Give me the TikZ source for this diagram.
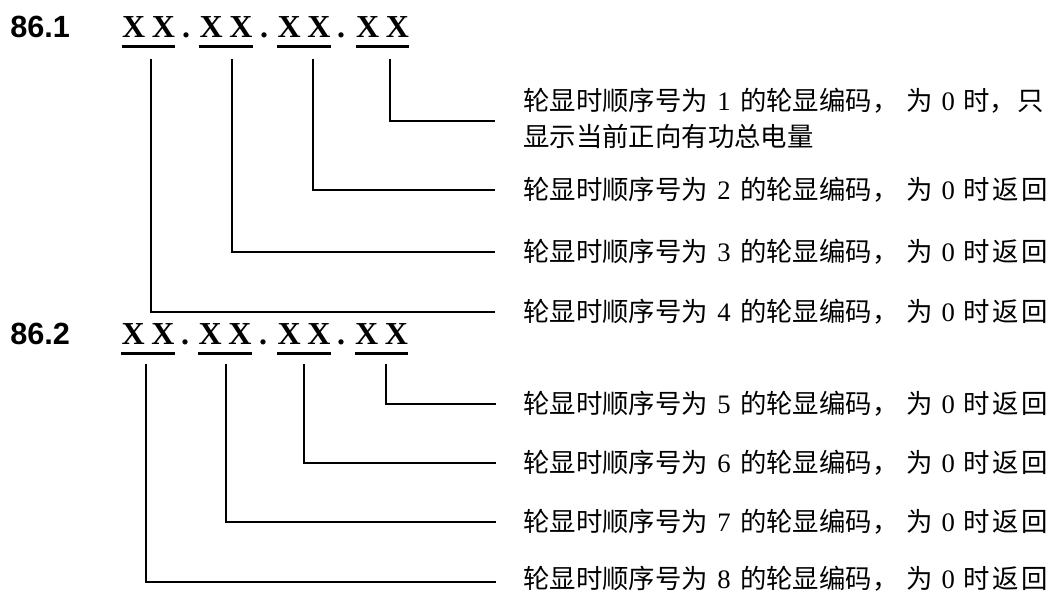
\documentclass[tikz,border=0pt]{standalone}
\usepackage{fontspec}
\setmainfont{Liberation Serif}
\newfontfamily\cjk{Noto Sans CJK SC}
\newfontfamily\hdfont{Liberation Sans}
\newcommand\dg[1]{{\fontsize{20}{26}\selectfont #1}}
\newcommand\labx[2]{{\cjk 轮显时顺序号为}\hspace{7pt}\dg{#1}\hspace{7pt}{\cjk 的轮显编码，}\hspace{6pt}{\cjk 为}\hspace{6.5pt}\dg{0}\hspace{6.5pt}#2}
\newcommand\lab[1]{\labx{#1}{{\cjk 时}\hspace{2pt}{\cjk 返}\hspace{2pt}{\cjk 回}}}
\begin{document}
\begin{tikzpicture}[x=0.75pt,y=-0.75pt,
  hd/.style={font=\hdfont\bfseries\fontsize{23}{27}\selectfont,anchor=base west,inner sep=0pt},
  xx/.style={font=\bfseries\fontsize{24}{28}\selectfont,anchor=base,inner sep=0pt},
  ul/.style={line width=2.4pt},
  conn/.style={line width=1.1pt},
  lbl/.style={font=\fontsize{19.8}{26}\selectfont,anchor=west,inner sep=0pt,text height=17pt,text depth=2.3pt}]
\useasboundingbox (0,0) rectangle (1057,593);
% ---- group 1 ----
\node[hd] (h1) at (10,37) {86.1};
\node[xx] (a1) at (148.5,37) {X\kern5pt X};
\node[xx] (d1) at (186,37) {.};
\node[xx] (a2) at (226,37) {X\kern5pt X};
\node[xx] (d2) at (264,37) {.};
\node[xx] (a3) at (304,37) {X\kern5pt X};
\node[xx] (d3) at (341,37) {.};
\node[xx] (a4) at (382.5,37) {X\kern5pt X};
\foreach \n in {a1,a2,a3,a4}
  \draw[ul] ([yshift=-7.3pt]\n.base west) -- ([yshift=-7.3pt]\n.base east);
\node[lbl] (t1a) at (523,101) {\labx{1}{{\cjk 时，}\hspace{1pt}{\cjk 只}}};
\node[lbl] (t1b) at (523,137) {\cjk 显示当前正向有功总电量};
\node[lbl] (t2) at (523,190) {\lab{2}};
\node[lbl] (t3) at (523,252) {\lab{3}};
\node[lbl] (t4) at (523,312) {\lab{4}};
\coordinate (v1) at (151,59);
\coordinate (v2) at (232,59);
\coordinate (v3) at (313,59);
\coordinate (v4) at (390,59);
\coordinate (e1) at (495,121);
\coordinate (e2) at (495,190);
\coordinate (e3) at (495,252);
\coordinate (e4) at (495,312);
\draw[conn] (v4) |- (e1);
\draw[conn] (v3) |- (e2);
\draw[conn] (v2) |- (e3);
\draw[conn] (v1) |- (e4);
% ---- group 2 ----
\node[hd] (h2) at (10,344) {86.2};
\node[xx] (b1) at (148,344) {X\kern5pt X};
\node[xx] (f1) at (185,344) {.};
\node[xx] (b2) at (225,344) {X\kern5pt X};
\node[xx] (f2) at (263,344) {.};
\node[xx] (b3) at (304,344) {X\kern5pt X};
\node[xx] (f3) at (341,344) {.};
\node[xx] (b4) at (381.5,344) {X\kern5pt X};
\foreach \n in {b1,b2,b3,b4}
  \draw[ul] ([yshift=-7.3pt]\n.base west) -- ([yshift=-7.3pt]\n.base east);
\node[lbl] (u5) at (523,404) {\lab{5}};
\node[lbl] (u6) at (523,463) {\lab{6}};
\node[lbl] (u7) at (523,522) {\lab{7}};
\node[lbl] (u8) at (523,579) {\lab{8}};
\coordinate (w1) at (146,364);
\coordinate (w2) at (226,364);
\coordinate (w3) at (304,364);
\coordinate (w4) at (386,364);
\coordinate (g5) at (496,404);
\coordinate (g6) at (496,463);
\coordinate (g7) at (496,522);
\coordinate (g8) at (496,582);
\draw[conn] (w4) |- (g5);
\draw[conn] (w3) |- (g6);
\draw[conn] (w2) |- (g7);
\draw[conn] (w1) |- (g8);
\end{tikzpicture}
\end{document}
